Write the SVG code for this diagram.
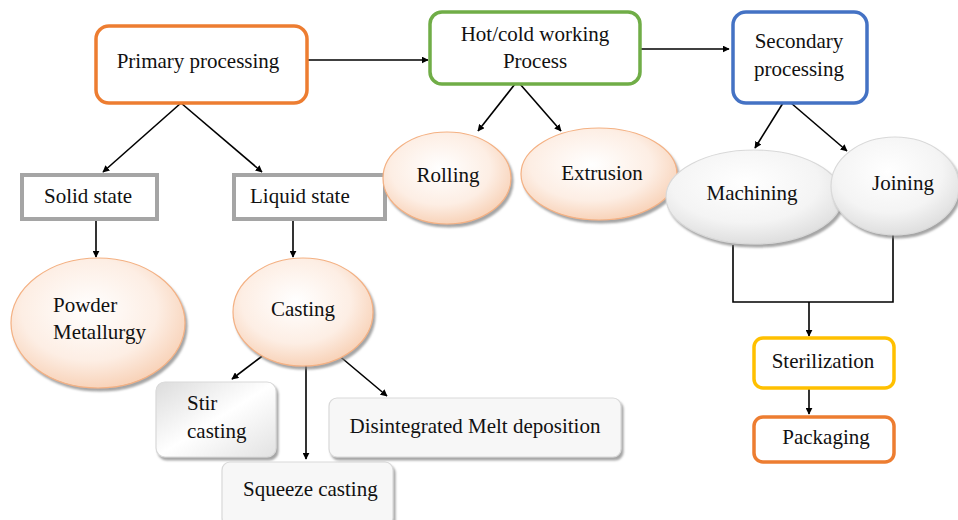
<svg xmlns="http://www.w3.org/2000/svg" width="958" height="520" viewBox="0 0 958 520" font-family="'Liberation Serif', 'DejaVu Serif', serif">
<defs>
<style>
text{font-family:'Liberation Serif','DejaVu Serif',serif;font-size:21px;fill:#111;}
.c{text-anchor:middle;}
.conn line,.conn polyline{stroke:#000;stroke-width:1.6;fill:none;}
.arr{marker-end:url(#ah);}
.rbox{fill:#fff;stroke-width:3.5;}
.gbox{fill:#fff;stroke:#A5A5A5;stroke-width:4;}
.peach{fill:url(#gp);stroke:#F4B183;stroke-width:1.2;filter:url(#sh);}
.grey{fill:url(#gg);stroke:#D9D9D9;stroke-width:1.2;filter:url(#sh);}
.soft{fill:url(#gs);stroke:#D9D9D9;stroke-width:1.2;filter:url(#sh);}
</style>
<marker id="ah" viewBox="0 0 10 10" refX="9" refY="5" markerWidth="7" markerHeight="7" markerUnits="userSpaceOnUse" orient="auto">
<path d="M0,0 L10,5 L0,10 z" fill="#000"/>
</marker>
<radialGradient id="gp" cx="0.45" cy="0.4" r="0.65">
<stop offset="0" stop-color="#FFFFFF"/>
<stop offset="0.6" stop-color="#FDEEE4"/>
<stop offset="1" stop-color="#F7CDB0"/>
</radialGradient>
<radialGradient id="gg" cx="0.45" cy="0.35" r="0.7">
<stop offset="0" stop-color="#FFFFFF"/>
<stop offset="0.6" stop-color="#F4F4F4"/>
<stop offset="1" stop-color="#DADADA"/>
</radialGradient>
<linearGradient id="gs" x1="0" y1="0" x2="1" y2="1">
<stop offset="0" stop-color="#DCDCDC"/>
<stop offset="0.5" stop-color="#FFFFFF"/>
<stop offset="1" stop-color="#E2E2E2"/>
</linearGradient>
<filter id="sh" x="-10%" y="-10%" width="125%" height="130%">
<feDropShadow dx="2" dy="3" stdDeviation="1.2" flood-color="#7F7F7F" flood-opacity="0.7"/>
</filter>
</defs>
<rect width="958" height="520" fill="#fff"/>

<g id="connectors" class="conn">
<line class="arr" x1="307" y1="60" x2="428" y2="60"/>
<line class="arr" x1="640" y1="49" x2="729" y2="49"/>
<line class="arr" x1="181" y1="103" x2="103" y2="172"/>
<line class="arr" x1="181" y1="103" x2="262" y2="172"/>
<line class="arr" x1="96" y1="220" x2="96" y2="257"/>
<line class="arr" x1="293" y1="220" x2="293" y2="257"/>
<line class="arr" x1="515" y1="84" x2="478" y2="131"/>
<line class="arr" x1="520" y1="84" x2="561" y2="131"/>
<line class="arr" x1="783" y1="103" x2="755" y2="148"/>
<line class="arr" x1="791" y1="103" x2="847" y2="151"/>
<line class="arr" x1="265" y1="354" x2="232" y2="379"/>
<line class="arr" x1="306" y1="361" x2="306" y2="459"/>
<line class="arr" x1="337" y1="354" x2="387" y2="396"/>
<polyline points="733,245 733,302 893,302 893,235"/>
<line class="arr" x1="809" y1="302" x2="809" y2="336"/>
<line class="arr" x1="809" y1="388" x2="809" y2="414"/>
</g>

<g id="primary">
<rect class="rbox" x="96" y="26" width="211" height="77" rx="13" stroke="#ED7D31"/>
<text class="c" x="198" y="68">Primary processing</text>
</g>
<g id="hotcold">
<rect class="rbox" x="430" y="12" width="210" height="72" rx="12" stroke="#70AD47"/>
<text class="c" x="535" y="41">Hot/cold working</text>
<text class="c" x="535" y="68">Process</text>
</g>
<g id="secondary">
<rect class="rbox" x="733" y="12" width="134" height="91" rx="13" stroke="#4472C4"/>
<text class="c" x="799" y="48">Secondary</text>
<text class="c" x="799" y="76">processing</text>
</g>
<g id="solid">
<rect class="gbox" x="22" y="175" width="135" height="44"/>
<text class="c" x="88" y="203">Solid state</text>
</g>
<g id="liquid">
<rect class="gbox" x="234" y="175" width="151" height="44"/>
<text x="250" y="203">Liquid state</text>
</g>
<g id="rolling">
<ellipse class="peach" cx="447" cy="178" rx="64" ry="46"/>
<text class="c" x="448" y="182">Rolling</text>
</g>
<g id="extrusion">
<ellipse class="peach" cx="599" cy="174" rx="78" ry="46"/>
<text class="c" x="602" y="180">Extrusion</text>
</g>
<g id="machining">
<ellipse class="grey" cx="754" cy="197" rx="88" ry="47"/>
<text class="c" x="752" y="200">Machining</text>
</g>
<g id="joining">
<ellipse class="grey" cx="895" cy="186" rx="64" ry="49"/>
<text class="c" x="903" y="190">Joining</text>
</g>
<g id="powder">
<ellipse class="peach" cx="98" cy="323" rx="87" ry="65"/>
<text x="53" y="312">Powder</text>
<text x="53" y="339">Metallurgy</text>
</g>
<g id="casting">
<ellipse class="peach" cx="303" cy="312" rx="70" ry="54"/>
<text class="c" x="303" y="316">Casting</text>
</g>
<g id="stir">
<rect class="soft" x="156" y="382" width="120" height="75" rx="9"/>
<text x="187" y="410">Stir</text>
<text x="187" y="438">casting</text>
</g>
<g id="squeeze">
<rect class="soft" x="222" y="462" width="171" height="64" rx="8" style="fill:#F7F7F7"/>
<text x="243" y="496">Squeeze casting</text>
</g>
<g id="dmd">
<rect class="soft" x="329" y="398" width="292" height="59" rx="8" style="fill:#F7F7F7"/>
<text class="c" x="475" y="433">Disintegrated Melt deposition</text>
</g>
<g id="sterilization">
<rect class="rbox" x="754" y="338" width="140" height="50" rx="9" stroke="#FFC000"/>
<text class="c" x="823" y="368">Sterilization</text>
</g>
<g id="packaging">
<rect class="rbox" x="754" y="417" width="140" height="45" rx="9" stroke="#ED7D31"/>
<text class="c" x="826" y="444">Packaging</text>
</g>
</svg>
